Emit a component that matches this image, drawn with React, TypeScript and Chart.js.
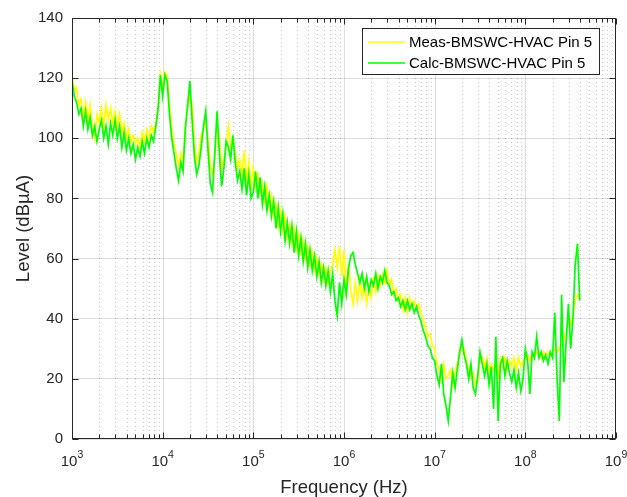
import { useEffect, useRef } from 'react';
import { Chart, registerables } from 'chart.js';

Chart.register(...registerables);

// Frequency grid (Hz), 40 points per decade
const FREQ_HZ = [
  1000, 1059, 1122, 1189, 1259, 1334, 1413, 1496, 1585, 1679, 1778, 1884, 1995, 2113, 2239, 2371, 2512, 2661, 2818, 2985,
  3162, 3350, 3548, 3758, 3981, 4217, 4467, 4732, 5012, 5309, 5623, 5957, 6310, 6683, 7079, 7499, 7943, 8414, 8913, 9441,
  1.000e4, 1.059e4, 1.122e4, 1.189e4, 1.259e4, 1.334e4, 1.413e4, 1.496e4, 1.585e4, 1.679e4, 1.778e4, 1.884e4, 1.995e4, 2.113e4, 2.239e4, 2.371e4, 2.512e4, 2.661e4, 2.818e4, 2.985e4,
  3.162e4, 3.350e4, 3.548e4, 3.758e4, 3.981e4, 4.217e4, 4.467e4, 4.732e4, 5.012e4, 5.309e4, 5.623e4, 5.957e4, 6.310e4, 6.683e4, 7.079e4, 7.499e4, 7.943e4, 8.414e4, 8.913e4, 9.441e4,
  1.000e5, 1.059e5, 1.122e5, 1.189e5, 1.259e5, 1.334e5, 1.413e5, 1.496e5, 1.585e5, 1.679e5, 1.778e5, 1.884e5, 1.995e5, 2.113e5, 2.239e5, 2.371e5, 2.512e5, 2.661e5, 2.818e5, 2.985e5,
  3.162e5, 3.350e5, 3.548e5, 3.758e5, 3.981e5, 4.217e5, 4.467e5, 4.732e5, 5.012e5, 5.309e5, 5.623e5, 5.957e5, 6.310e5, 6.683e5, 7.079e5, 7.499e5, 7.943e5, 8.414e5, 8.913e5, 9.441e5,
  1.000e6, 1.059e6, 1.122e6, 1.189e6, 1.259e6, 1.334e6, 1.413e6, 1.496e6, 1.585e6, 1.679e6, 1.778e6, 1.884e6, 1.995e6, 2.113e6, 2.239e6, 2.371e6, 2.512e6, 2.661e6, 2.818e6, 2.985e6,
  3.162e6, 3.350e6, 3.548e6, 3.758e6, 3.981e6, 4.217e6, 4.467e6, 4.732e6, 5.012e6, 5.309e6, 5.623e6, 5.957e6, 6.310e6, 6.683e6, 7.079e6, 7.499e6, 7.943e6, 8.414e6, 8.913e6, 9.441e6,
  1.000e7, 1.059e7, 1.122e7, 1.189e7, 1.259e7, 1.334e7, 1.413e7, 1.496e7, 1.585e7, 1.679e7, 1.778e7, 1.884e7, 1.995e7, 2.113e7, 2.239e7, 2.371e7, 2.512e7, 2.661e7, 2.818e7, 2.985e7,
  3.162e7, 3.350e7, 3.548e7, 3.758e7, 3.981e7, 4.217e7, 4.467e7, 4.732e7, 5.012e7, 5.309e7, 5.623e7, 5.957e7, 6.310e7, 6.683e7, 7.079e7, 7.499e7, 7.943e7, 8.414e7, 8.913e7, 9.441e7,
  1.000e8, 1.059e8, 1.122e8, 1.189e8, 1.259e8, 1.334e8, 1.413e8, 1.496e8, 1.585e8, 1.679e8, 1.778e8, 1.884e8, 1.995e8, 2.113e8, 2.239e8, 2.371e8, 2.512e8, 2.661e8, 2.818e8, 2.985e8,
  3.162e8, 3.350e8, 3.548e8, 3.758e8, 3.981e8,
];

// Measured level (dBuA)
const MEAS_DBUA = [
  121, 116, 117, 111, 113, 107, 112, 106, 111, 104, 100, 108, 105, 110, 104, 111, 106, 110, 105, 109,
  104, 108, 102, 105, 100, 103, 99, 101, 98, 100, 97, 102, 99, 103, 100, 104, 102, 105, 110, 121,
  116, 122, 121, 111, 103, 98, 95, 91, 95, 92, 104, 110, 114, 111, 98, 92, 95, 101, 103, 106,
  100, 91, 88, 94, 104, 100, 90, 93, 97, 104, 97, 100, 95, 90, 93, 88, 96, 86, 92, 84,
  90, 84, 88, 82, 85, 79, 84, 77, 81, 74, 78, 71, 76, 69, 74, 67, 71, 65, 70, 63,
  68, 62, 66, 60, 64, 58, 62, 56, 60, 55, 58, 53, 57, 52, 56, 58, 63, 57, 64, 54,
  63, 47, 58, 49, 45, 52, 46, 53, 47, 52, 45, 51, 47, 53, 49, 54, 51, 55, 52, 56,
  51, 53, 48, 50, 46, 48, 43, 47, 42, 47, 44, 46, 43, 45, 42, 40, 37, 34, 35, 31,
  30, 25, 23, 20, 25, 20, 21, 23, 18, 22, 25, 28, 31, 30, 26, 23, 21, 22, 18, 19,
  28, 27, 24, 27, 22, 25, 23, 25, 21, 27, 24, 27, 23, 26, 24, 27, 23, 27, 24, 26,
  27, 28, 26, 28, 27, 29, 28, 27, 29, 27, 29, 28, 29, 30, 29, 30, 32, 33, 35, 40,
  38, 41, 46, 48, 47,
];

// Calculated level (dBuA)
const CALC_DBUA = [
  119, 114, 112, 108, 110, 104, 109, 103, 107, 101, 104, 99, 103, 106, 100, 104, 98, 105, 101, 106,
  100, 104, 97, 102, 96, 100, 95, 98, 93, 97, 94, 99, 95, 100, 97, 101, 99, 104, 110, 121,
  114, 121, 119, 108, 100, 95, 90, 86, 92, 89, 103, 111, 119, 106, 94, 88, 91, 97, 104, 109,
  96, 85, 82, 95, 109, 95, 84, 90, 99, 97, 93, 101, 92, 86, 89, 83, 90, 81, 88, 80,
  82, 89, 80, 87, 78, 84, 76, 81, 74, 79, 70, 77, 69, 75, 66, 72, 65, 71, 62, 69,
  61, 67, 59, 65, 57, 63, 56, 61, 54, 59, 52, 57, 51, 56, 49, 55, 46, 41, 52, 45,
  53, 48, 57, 61, 62, 58, 55, 52, 55, 50, 54, 49, 53, 51, 55, 50, 54, 52, 56, 52,
  51, 48, 49, 46, 47, 44, 46, 43, 46, 43, 45, 42, 44, 41, 39, 36, 34, 31, 30, 27,
  26, 21, 18, 25, 15, 11, 6, 14, 22, 17, 23, 29, 33, 28, 25, 20, 25, 17, 15, 21,
  29, 25, 21, 25, 18, 24, 10, 34, 6, 25, 27, 21, 26, 22, 19, 23, 17, 22, 16, 20,
  30, 26, 15, 29, 27, 34, 27, 29, 26, 28, 25, 29, 27, 42, 20, 6, 48, 19, 32, 45,
  30, 40, 58, 65, 46,
];

const SERIES_LABELS = ['Meas-BMSWC-HVAC Pin 5', 'Calc-BMSWC-HVAC Pin 5'];
const SERIES_COLORS = ['#ffff00', '#00ff00'];
const X_DECADES = [3, 4, 5, 6, 7, 8, 9];
const X_MINOR_MULTIPLIERS = [2, 3, 4, 5, 6, 7, 8, 9];
const Y_MIN = 0;
const Y_MAX = 140;
const Y_STEP = 20;
const X_TITLE = 'Frequency (Hz)';
const Y_TITLE = 'Level (dB\u00b5A)';

const FONT = "'Liberation Sans', Arial, sans-serif";
const AXIS_COLOR = '#262626';

const matlabAxesPlugin = {
  id: 'matlabAxes',
  beforeDatasetsDraw(chart: any) {
    const { ctx, chartArea: a, scales } = chart;
    const xs = scales.x;
    ctx.save();
    ctx.lineWidth = 1;
    for (const d of X_DECADES) {
      const base = Math.pow(10, d);
      for (const m of X_MINOR_MULTIPLIERS) {
        const v = m * base;
        if (v >= xs.max) continue;
        const px = Math.round(xs.getPixelForValue(v)) + 0.5;
        ctx.strokeStyle = 'rgba(0,0,0,0.22)';
        ctx.setLineDash([1, 3]);
        ctx.beginPath();
        ctx.moveTo(px, a.top);
        ctx.lineTo(px, a.bottom);
        ctx.stroke();
      }
      if (base > xs.min && base < xs.max) {
        const px = Math.round(xs.getPixelForValue(base)) + 0.5;
        ctx.strokeStyle = 'rgba(0,0,0,0.13)';
        ctx.setLineDash([]);
        ctx.beginPath();
        ctx.moveTo(px, a.top);
        ctx.lineTo(px, a.bottom);
        ctx.stroke();
      }
    }
    ctx.restore();
  },
  afterDraw(chart: any) {
    const { ctx, chartArea: a, scales } = chart;
    const xs = scales.x;
    const ys = scales.y;
    const L = Math.round(a.left) + 0.5;
    const R = Math.round(a.right) - 0.5;
    const T = Math.round(a.top) + 0.5;
    const B = Math.round(a.bottom) - 0.5;
    ctx.save();
    ctx.setLineDash([]);
    ctx.strokeStyle = AXIS_COLOR;
    ctx.lineWidth = 1;
    ctx.strokeRect(L, T, R - L, B - T);

    ctx.beginPath();
    for (const d of X_DECADES) {
      const base = Math.pow(10, d);
      const list = [{ v: base, len: 6 }].concat(X_MINOR_MULTIPLIERS.map((m) => ({ v: m * base, len: 4 })));
      for (const t of list) {
        if (t.v < xs.min || t.v > xs.max) continue;
        const px = Math.round(xs.getPixelForValue(t.v)) + 0.5;
        ctx.moveTo(px, B);
        ctx.lineTo(px, B - t.len);
        ctx.moveTo(px, T);
        ctx.lineTo(px, T + t.len);
      }
    }
    for (let v = Y_MIN; v <= Y_MAX; v += Y_STEP) {
      const py = Math.round(ys.getPixelForValue(v)) + 0.5;
      ctx.moveTo(L, py);
      ctx.lineTo(L + 6, py);
      ctx.moveTo(R, py);
      ctx.lineTo(R - 6, py);
    }
    ctx.stroke();

    // x tick labels 10^n
    ctx.fillStyle = AXIS_COLOR;
    ctx.textBaseline = 'alphabetic';
    ctx.textAlign = 'left';
    const baseFont = `15px ${FONT}`;
    const expFont = `10.5px ${FONT}`;
    for (const d of X_DECADES) {
      const px = xs.getPixelForValue(Math.pow(10, d));
      ctx.font = baseFont;
      const w1 = ctx.measureText('10').width;
      ctx.font = expFont;
      const w2 = ctx.measureText(String(d)).width;
      const x0 = px - (w1 + w2) / 2;
      ctx.font = baseFont;
      ctx.fillText('10', x0, a.bottom + 27);
      ctx.font = expFont;
      ctx.fillText(String(d), x0 + w1, a.bottom + 19);
    }

    // legend inside the axes (top right)
    const lx = 362.5;
    const ly = 28.5;
    const lw = 237;
    const lh = 46;
    ctx.fillStyle = '#ffffff';
    ctx.fillRect(lx, ly, lw, lh);
    ctx.strokeStyle = AXIS_COLOR;
    ctx.lineWidth = 1;
    ctx.strokeRect(lx, ly, lw, lh);
    const rows = [42, 63];
    for (let i = 0; i < SERIES_LABELS.length; i++) {
      const y = rows[i];
      ctx.save();
      ctx.beginPath();
      ctx.strokeStyle = SERIES_COLORS[i];
      ctx.lineWidth = 1.6;
      ctx.moveTo(368, y);
      ctx.lineTo(405, y);
      ctx.stroke();
      ctx.restore();
      ctx.fillStyle = '#000000';
      ctx.font = `15px ${FONT}`;
      ctx.textBaseline = 'middle';
      ctx.fillText(SERIES_LABELS[i], 409, y + 0.5);
    }
    ctx.restore();
  },
};

export default function App() {
  const canvasRef = useRef<HTMLCanvasElement>(null);

  useEffect(() => {
    const canvas = canvasRef.current;
    if (!canvas) return;
    const chart = new Chart(canvas, {
      type: 'line',
      data: {
        datasets: [
          {
            label: SERIES_LABELS[0],
            data: FREQ_HZ.map((f, i) => ({ x: f, y: MEAS_DBUA[i] })),
            borderColor: SERIES_COLORS[0],
            backgroundColor: SERIES_COLORS[0],
            borderWidth: 1.7,
            pointRadius: 0,
            tension: 0,
            order: 2,
          },
          {
            label: SERIES_LABELS[1],
            data: FREQ_HZ.map((f, i) => ({ x: f, y: CALC_DBUA[i] })),
            borderColor: SERIES_COLORS[1],
            backgroundColor: SERIES_COLORS[1],
            borderWidth: 1.7,
            pointRadius: 0,
            tension: 0,
            order: 1,
          },
        ],
      },
      options: {
        responsive: false,
        devicePixelRatio: 1,
        animation: false,
        events: [],
        layout: { padding: { left: 0, right: 11, top: 12, bottom: 0 } },
        plugins: { legend: { display: false }, tooltip: { enabled: false } },
        scales: {
          x: {
            type: 'logarithmic',
            min: 1e3,
            max: 1e9,
            grid: { display: false },
            border: { display: false },
            ticks: { display: false },
            title: {
              display: true,
              text: X_TITLE,
              color: AXIS_COLOR,
              font: { family: FONT, size: 18.5, lineHeight: 1 },
              padding: { top: 0, bottom: 0 },
            },
            afterFit: (s: any) => {
              s.height = 58;
            },
          },
          y: {
            type: 'linear',
            min: Y_MIN,
            max: Y_MAX,
            grid: { color: 'rgba(0,0,0,0.13)', lineWidth: 1, drawTicks: false },
            border: { display: false },
            ticks: {
              stepSize: Y_STEP,
              color: AXIS_COLOR,
              padding: 9,
              font: { family: FONT, size: 15 },
            },
            title: {
              display: true,
              text: Y_TITLE,
              color: AXIS_COLOR,
              font: { family: FONT, size: 18.5, lineHeight: 1 },
              padding: { top: 15, bottom: 0 },
            },
            afterFit: (s: any) => {
              s.width = 72;
            },
          },
        },
      },
      plugins: [matlabAxesPlugin],
    });
    return () => chart.destroy();
  }, []);

  return (
    <div style={{ position: 'absolute', left: 0, top: 0, width: 627, height: 497, background: '#ffffff' }}>
      <canvas ref={canvasRef} width={627} height={497} style={{ display: 'block' }} />
    </div>
  );
}
